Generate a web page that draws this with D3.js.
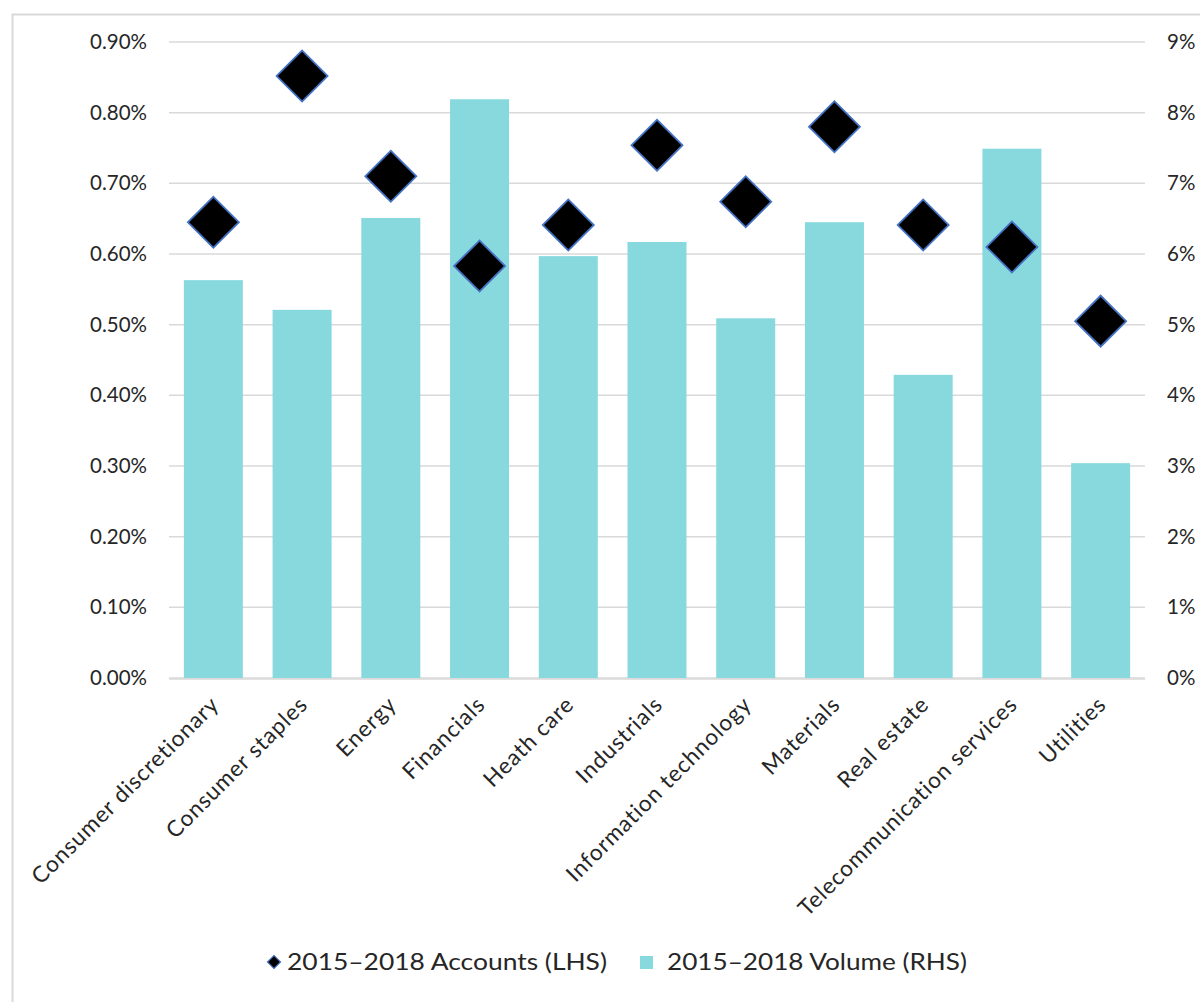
<!DOCTYPE html>
<html><head><meta charset="utf-8">
<script src="https://cdn.jsdelivr.net/npm/d3@7"></script>
<style>body{margin:0;background:#fff}svg{display:block}text{font-family:"Century Gothic",Lato,"Open Sans",sans-serif;fill:#262626}</style>
</head><body><svg id="c" width="1200" height="1002"></svg>
<script>
const categories=["Consumer discretionary","Consumer staples","Energy","Financials","Heath care","Industrials","Information technology","Materials","Real estate","Telecommunication services","Utilities"];
const accounts=[0.645,0.852,0.710,0.583,0.641,0.754,0.674,0.780,0.641,0.610,0.505];
const volume=[5.63,5.21,6.51,8.19,5.97,6.17,5.09,6.45,4.29,7.49,3.04];
const leftTicks=[0,0.1,0.2,0.3,0.4,0.5,0.6,0.7,0.8,0.9];
const rightTicks=[0,1,2,3,4,5,6,7,8,9];
const seriesNames=["2015\u20132018 Accounts (LHS)","2015\u20132018 Volume (RHS)"];

const svg=d3.select("#c");
svg.append("rect").attr("x",12.5).attr("y",14.5).attr("width",1200).attr("height",1000).attr("fill","none").attr("stroke","#d9d9d9").attr("stroke-width",2);
const L=169,R=1145,T=42,B=678;
const x=d3.scaleBand().domain(categories).range([L,R]).paddingInner(0.335).paddingOuter(0.1675);
const yL=d3.scaleLinear().domain([0,0.9]).range([B,T]);
const yR=d3.scaleLinear().domain([0,9]).range([B,T]);
svg.append("g").selectAll("line").data(leftTicks).join("line")
 .attr("x1",L).attr("x2",R).attr("y1",d=>yL(d)).attr("y2",d=>yL(d)).attr("stroke","#d9d9d9").attr("stroke-width",1.5);
const ga=svg.append("g").attr("transform",`translate(${L},0)`).call(d3.axisLeft(yL).tickValues(leftTicks).tickFormat(d=>d.toFixed(2)+"%").tickSize(0).tickPadding(22));
ga.select(".domain").remove();
ga.selectAll("text").style("font-size","20.5px").attr("fill","#262626");
const gr=svg.append("g").attr("transform",`translate(${R},0)`).call(d3.axisRight(yR).tickValues(rightTicks).tickFormat(d=>d+"%").tickSize(0).tickPadding(22));
gr.select(".domain").remove();
gr.selectAll("text").style("font-size","20.5px").attr("fill","#262626");
svg.append("g").selectAll("rect").data(volume).join("rect")
 .attr("x",(d,i)=>x(categories[i])).attr("width",x.bandwidth())
 .attr("y",d=>yR(d)).attr("height",d=>B-yR(d)).attr("fill","#87d9de");
svg.append("line").attr("x1",L).attr("x2",R).attr("y1",B+1).attr("y2",B+1).attr("stroke","#d9d9d9").attr("stroke-width",1.5);
const sym=d3.symbol().type(d3.symbolSquare).size(1300);
svg.append("g").selectAll("path").data(accounts).join("path")
 .attr("d",sym).attr("transform",(d,i)=>`translate(${x(categories[i])+x.bandwidth()/2},${yL(d)}) rotate(45)`)
 .attr("fill","#000").attr("stroke","#4472c4").attr("stroke-width",1.8);
const gx=svg.append("g").attr("transform",`translate(0,${B})`).call(d3.axisBottom(x).tickSize(0).tickPadding(0));
gx.select(".domain").remove();
gx.selectAll("text").style("font-size","22.5px").style("letter-spacing","0.9px").attr("text-anchor","end").attr("dy",0)
 .attr("transform",d=>`translate(7,28) rotate(-45)`).attr("fill","#262626");
const lg=svg.append("g").attr("transform","translate(0,962)");
lg.append("path").attr("d",d3.symbol().type(d3.symbolSquare).size(85)).attr("transform","translate(274,0) rotate(45)").attr("fill","#000").attr("stroke","#4472c4").attr("stroke-width",1.2);
lg.append("text").attr("x",287).attr("y",0).attr("dy","0.36em").style("font-size","23px").attr("textLength",320).attr("lengthAdjust","spacingAndGlyphs").text(seriesNames[0]);
lg.append("rect").attr("x",640).attr("y",-6).attr("width",13).attr("height",13).attr("fill","#87d9de");
lg.append("text").attr("x",667).attr("y",0).attr("dy","0.36em").style("font-size","23px").attr("textLength",300).attr("lengthAdjust","spacingAndGlyphs").text(seriesNames[1]);
</script></body></html>
